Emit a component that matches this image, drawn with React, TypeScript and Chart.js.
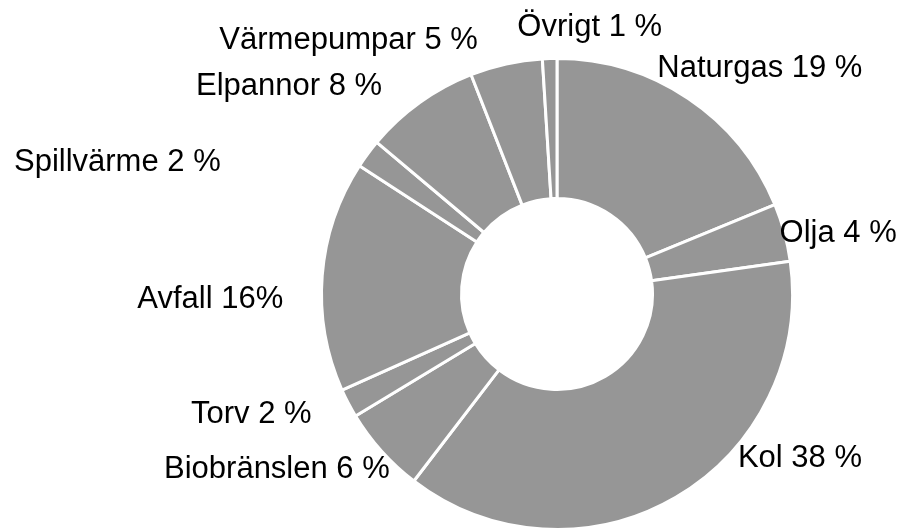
import React, { useEffect, useRef } from "react";
import { Chart, registerables } from "chart.js";

Chart.register(...registerables);

const categories = [
  "Naturgas",
  "Olja",
  "Kol",
  "Biobränslen",
  "Torv",
  "Avfall",
  "Spillvärme",
  "Elpannor",
  "Värmepumpar",
  "Övrigt",
];
const shares = [19, 4, 38, 6, 2, 16, 2, 8, 5, 1];
const labelTexts = [
  "Naturgas 19 %",
  "Olja 4 %",
  "Kol 38 %",
  "Biobränslen 6 %",
  "Torv 2 %",
  "Avfall 16%",
  "Spillvärme 2 %",
  "Elpannor 8 %",
  "Värmepumpar 5 %",
  "Övrigt 1 %",
];
// label nudges relative to a point just outside each slice's mid angle
const labelNudges: [number, number][] = [
  [-42, -5],
  [-24, 15],
  [52, -48],
  [23, 13],
  [-19, 11],
  [-19, 34],
  [-131, 29],
  [-26, 9],
  [-24, 4],
  [113, -3],
];

const labelPlugin = {
  id: "sliceLabels",
  afterDatasetsDraw(chart: any) {
    const ctx = chart.ctx;
    const meta = chart.getDatasetMeta(0);
    ctx.save();
    ctx.font = '31px "Liberation Sans", Arial, sans-serif';
    ctx.fillStyle = "#000000";
    ctx.textBaseline = "alphabetic";
    meta.data.forEach((arc: any, i: number) => {
      const p = arc.getProps(["x", "y", "startAngle", "endAngle", "outerRadius"], true);
      const mid = (p.startAngle + p.endAngle) / 2;
      const r = p.outerRadius + 20;
      const ax = p.x + Math.cos(mid) * r;
      const ay = p.y + Math.sin(mid) * r;
      ctx.textAlign = ax < p.x ? "right" : "left";
      const [dx, dy] = labelNudges[i];
      ctx.fillText(labelTexts[i], ax + dx, ay + dy);
    });
    ctx.restore();
  },
};

export default function App() {
  const ref = useRef<HTMLCanvasElement | null>(null);
  useEffect(() => {
    if (!ref.current) return;
    const chart = new Chart(ref.current, {
      type: "doughnut",
      data: {
        labels: categories,
        datasets: [
          {
            data: shares,
            backgroundColor: "#969696",
            borderColor: "#ffffff",
            borderWidth: 3,
          },
        ],
      },
      options: {
        responsive: false,
        animation: false,
        devicePixelRatio: 1,
        radius: 235.5,
        cutout: "40.55%",
        layout: { padding: { left: 214, right: 0, top: 57, bottom: 0 } },
        plugins: {
          legend: { display: false },
          tooltip: { enabled: false },
        },
      },
      plugins: [labelPlugin],
    });
    return () => chart.destroy();
  }, []);
  return (
    <div style={{ position: "absolute", left: 0, top: 0, width: 900, height: 531, background: "#ffffff" }}>
      <canvas ref={ref} width={900} height={531} style={{ display: "block" }} />
    </div>
  );
}
